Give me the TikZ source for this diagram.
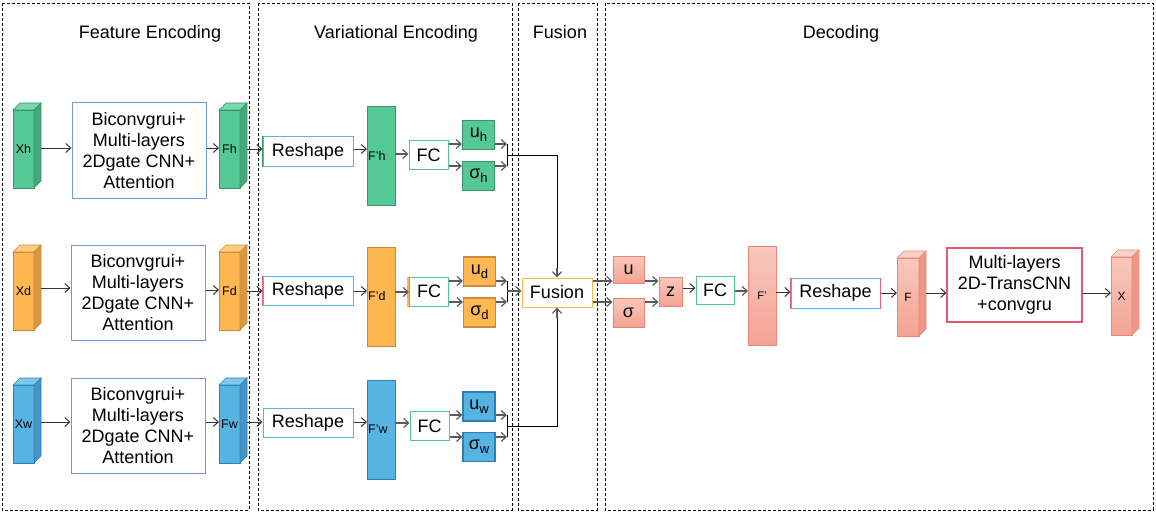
\documentclass[tikz,border=0pt]{standalone}
\usepackage{fontspec}
\setmainfont{Liberation Sans}
\usetikzlibrary{arrows.meta}
\definecolor{gF}{HTML}{55C995}
\definecolor{gB}{HTML}{3A9468}
\definecolor{gS}{HTML}{45A77A}
\definecolor{gT}{HTML}{78D8AE}
\definecolor{oF}{HTML}{FFB74F}
\definecolor{oB}{HTML}{C98B3B}
\definecolor{oS}{HTML}{D9973F}
\definecolor{oT}{HTML}{FFCB7E}
\definecolor{bF}{HTML}{56B4E3}
\definecolor{bB}{HTML}{2F80AF}
\definecolor{bS}{HTML}{4495C6}
\definecolor{bT}{HTML}{80C9EE}
\definecolor{sF1}{HTML}{F9C8BD}
\definecolor{sF2}{HTML}{F4A393}
\definecolor{sF}{HTML}{F6B5A7}
\definecolor{sB}{HTML}{EE8472}
\definecolor{sS}{HTML}{E8998A}
\definecolor{sT}{HTML}{FAD2C8}
\definecolor{boxBlue}{HTML}{6A9BDA}
\definecolor{reBlue}{HTML}{55B3E6}
\definecolor{fcGreen}{HTML}{52C48D}
\definecolor{fuOrange}{HTML}{FFB84A}
\definecolor{mlRed}{HTML}{E5566F}
\definecolor{edgePink}{HTML}{E6607A}
\definecolor{arrGray}{HTML}{333333}
\definecolor{arrGrayL}{HTML}{5A5A5A}
\newcommand\mysub[1]{\raisebox{-4pt}{\fontsize{13}{13}\selectfont #1}}
% name, cx, cy, w, h, colour prefix, label
\newcommand\mycube[7]{%
  \node[cubefront, #6front, minimum width=#4, minimum height=#5] (#1) at (#2,#3) {#7};
  \filldraw[fill=#6T, draw=#6B, line width=0.6pt] (#1.north west) -- ++(7,-7) -- ([shift={(7,-7)}]#1.north east) -- (#1.north east) -- cycle;
  \filldraw[fill=#6S, draw=#6B, line width=0.6pt] (#1.north east) -- ++(7,-7) -- ([shift={(7,-7)}]#1.south east) -- (#1.south east) -- cycle;
  \coordinate (#1-r) at ([shift={(7,0)}]#1.east);
}
\tikzset{
  frame/.style={draw=black, dash pattern=on 3pt off 2pt, line width=0.9pt},
  bigfont/.style={font=\fontsize{18}{21}\selectfont},
  title/.style={bigfont, inner sep=0, anchor=base},
  cubefront/.style={rectangle, inner sep=0, outer sep=0, line width=0.6pt, font=\fontsize{12.5}{14}\selectfont},
  gfront/.style={fill=gF, draw=gB},
  ofront/.style={fill=oF, draw=oB},
  bfront/.style={fill=bF, draw=bB},
  sfront/.style={top color=sF1, bottom color=sF2, draw=sB},
  frect/.style={rectangle, inner sep=0, outer sep=0, line width=0.7pt, minimum width=28, minimum height=99},
  encbox/.style={rectangle, draw=boxBlue, line width=1pt, fill=white, inner sep=0, bigfont, align=center, minimum width=134, minimum height=95},
  rebox/.style={rectangle, draw=reBlue, line width=1pt, fill=white, inner sep=0, bigfont, minimum width=90, minimum height=29},
  fcbox/.style={rectangle, draw=fcGreen, line width=1pt, fill=white, inner sep=0, bigfont, minimum width=39, minimum height=29},
  ubox/.style={rectangle, inner sep=0, line width=1.2pt, bigfont, minimum width=32, minimum height=29},
  smalltxt/.style={inner sep=0, font=\fontsize{12.5}{14}\selectfont},
  arr/.style={draw=arrGray, line width=1pt, -{Straight Barb[length=5pt,width=9pt]}},
  arrg/.style={draw=arrGrayL, line width=1.8pt, -{Straight Barb[length=5pt,width=9pt,line width=1.2pt]}},
  joinline/.style={draw=black, line width=1pt},
}
\begin{document}
\begin{tikzpicture}[x=1pt,y=-1pt]
\useasboundingbox (0,0) rectangle (1156,516);
% frames
\draw[frame] (2,3) rectangle (249,510);
\draw[frame] (258,3) rectangle (512,510);
\draw[frame] (518,3) rectangle (597,510);
\draw[frame] (605,3) rectangle (1153,510);
% titles
\node[title] (t1) at (150,38.5) {Feature Encoding};
\node[title] (t2) at (396,38.5) {Variational Encoding};
\node[title] (t3) at (560,38.5) {Fusion};
\node[title] (t4) at (841,38.5) {Decoding};

% ---------- row h ----------
\mycube{Xh}{23.5}{149}{21}{78}{g}{Xh}
\node[encbox] (B1) at (139,150.5) {Biconvgrui+\\Multi-layers\\2Dgate CNN+\\Attention};
\mycube{Fh}{229.5}{149}{21}{78}{g}{Fh}
\node[rebox] (R1) at (308,151.5) {Reshape};
\draw[gB, line width=1.4pt] (R1.north west) -- (R1.south west);
\node[frect, gfront] (Fph) at (381,156) {};
\node[smalltxt, anchor=west] (Fphl) at ([shift={(1,0)}]Fph.west) {F'h};
\node[fcbox] (FC1) at (428.5,155) {FC};
\node[ubox, fill=gF, draw=gB] (uh) at (478.5,135) {u\mysub{h}};
\node[ubox, fill=gF, draw=gB] (sh) at (478.5,176) {σ\mysub{h}};
\draw[arr] (Xh-r |- 0,148) -- (B1.west |- 0,148);
\draw[arr] (B1.east |- 0,148) -- (Fh.west |- 0,148);
\draw[arr] (Fh-r |- 0,149) -- (R1.west |- 0,149);
\draw[arr] (R1.east |- 0,149) -- (Fph.west |- 0,149);
\draw[arrg] (Fph.east |- 0,154) -- (FC1.west |- 0,154);
\draw[arrg] (FC1.east |- 0,144) -- (uh.west |- 0,144);
\draw[arrg] (FC1.east |- 0,166) -- (sh.west |- 0,166);
\coordinate (jh1) at (507,144);
\coordinate (jh2) at (507,166);
\coordinate (mh) at (507,155);
\draw[arrg] (uh.east |- jh1) -- (jh1);
\draw[arrg] (sh.east |- jh2) -- (jh2);
\draw[joinline] (jh1) -- (jh2);

% ---------- row d ----------
\mycube{Xd}{23.5}{291}{21}{78}{o}{Xd}
\node[encbox] (B2) at (138,292.5) {Biconvgrui+\\Multi-layers\\2Dgate CNN+\\Attention};
\mycube{Fd}{229.5}{291}{21}{78}{o}{Fd}
\node[rebox] (R2) at (308,291) {Reshape};
\draw[edgePink, line width=1.4pt] (R2.north west) -- (R2.south west);
\node[frect, ofront] (Fpd) at (381,296.5) {};
\node[smalltxt, anchor=west] (Fpdl) at ([shift={(1,0)}]Fpd.west) {F'd};
\node[fcbox] (FC2) at (429,291.5) {FC};
\draw[oF, line width=2.2pt] ([xshift=-1pt]FC2.north west) -- ([xshift=-1pt]FC2.south west);
\node[ubox, fill=oF, draw=oB] (ud) at (479.5,271.5) {u\mysub{d}};
\node[ubox, fill=oF, draw=oB] (sd) at (479.5,312.5) {σ\mysub{d}};
\draw[arr] (Xd-r |- 0,288) -- (B2.west |- 0,288);
\draw[arr] (B2.east |- 0,290) -- (Fd.west |- 0,290);
\draw[arr] (Fd-r |- 0,291) -- (R2.west |- 0,291);
\draw[arr] (R2.east |- 0,291) -- (Fpd.west |- 0,291);
\draw[arrg] (Fpd.east |- 0,292) -- (FC2.west |- 0,292);
\draw[arrg] (FC2.east |- 0,281) -- (ud.west |- 0,281);
\draw[arrg] (FC2.east |- 0,302) -- (sd.west |- 0,302);
\coordinate (jd1) at (507,281);
\coordinate (jd2) at (507,302);
\coordinate (md) at (507,291);
\draw[arrg] (ud.east |- jd1) -- (jd1);
\draw[arrg] (sd.east |- jd2) -- (jd2);
\draw[joinline] (jd1) -- (jd2);

% ---------- row w ----------
\mycube{Xw}{23.5}{424}{21}{78}{b}{Xw}
\node[encbox] (B3) at (138,426) {Biconvgrui+\\Multi-layers\\2Dgate CNN+\\Attention};
\mycube{Fw}{229.5}{424}{21}{78}{b}{Fw}
\node[rebox] (R3) at (308,423) {Reshape};
\node[frect, bfront] (Fpw) at (381,429.5) {};
\node[smalltxt, anchor=west] (Fpwl) at ([shift={(1,0)}]Fpw.west) {F'w};
\node[fcbox] (FC3) at (429.5,426) {FC};
\node[ubox, fill=bF, draw=bB] (uw) at (479,406.5) {u\mysub{w}};
\node[ubox, fill=bF, draw=bB] (sw) at (479,447) {σ\mysub{w}};
\draw[arr] (Xw-r |- 0,422) -- (B3.west |- 0,422);
\draw[arr] (B3.east |- 0,422) -- (Fw.west |- 0,422);
\draw[arr] (Fw-r |- 0,422) -- (R3.west |- 0,422);
\draw[arr] (R3.east |- 0,422) -- (Fpw.west |- 0,422);
\draw[arrg] (Fpw.east |- 0,423) -- (FC3.west |- 0,423);
\draw[arrg] (FC3.east |- 0,415) -- (uw.west |- 0,415);
\draw[arrg] (FC3.east |- 0,437) -- (sw.west |- 0,437);
\coordinate (jw1) at (507,415);
\coordinate (jw2) at (507,437);
\coordinate (mw) at (507,426);
\draw[arrg] (uw.east |- jw1) -- (jw1);
\draw[arrg] (sw.east |- jw2) -- (jw2);
\draw[joinline] (jw1) -- (jw2);

% ---------- fusion ----------
\node[rectangle, draw=fuOrange, line width=1pt, fill=white, inner sep=0, bigfont, minimum width=70, minimum height=29] (Fus) at (557,292.5) {Fusion};
\draw[joinline] (mh) -| ([yshift=8pt]Fus.north);
\draw[arrg] ([yshift=10pt]Fus.north) -- (Fus.north);
\draw[joinline] (mw) -| ([yshift=-8pt]Fus.south);
\draw[arrg] ([yshift=-10pt]Fus.south) -- (Fus.south);
\draw[arrg] (md) -- (Fus.west |- md);

% ---------- decoding ----------
\node[ubox, top color=sF1, bottom color=sF2, draw=sB, line width=1pt, minimum width=31, minimum height=27] (u) at (628.5,270) {u};
\node[ubox, top color=sF1, bottom color=sF2, draw=sB, line width=1pt, minimum width=31, minimum height=29] (s) at (628.5,312.5) {σ};
\draw[arrg] (Fus.east |- 0,281) -- (u.west |- 0,281);
\draw[arrg] (Fus.east |- 0,302) -- (s.west |- 0,302);
\node[ubox, top color=sF1, bottom color=sF2, draw=sB, line width=1pt, minimum width=23, minimum height=29] (z) at (670.5,291.5) {z};
\draw[arrg] (u.east |- 0,281) -- (z.west |- 0,281);
\draw[arrg] (s.east |- 0,302) -- (z.west |- 0,302);
\node[fcbox, minimum width=38, minimum height=28] (FC4) at (715,290) {FC};
\draw[arr] (z.east |- 0,288) -- (FC4.west |- 0,288);
\node[frect, sfront] (Fp) at (762,295.5) {\fontsize{11}{13}\selectfont F'};
\draw[arrg] (FC4.east |- 0,291) -- (Fp.west |- 0,291);
\node[rebox, minimum width=89, minimum height=30] (R4) at (835.5,293) {Reshape};
\draw[edgePink, line width=1.3pt] (R4.north west) -- (R4.south west);
\draw[edgePink, line width=1.3pt] (R4.north east) -- (R4.south east);
\draw[arr] (Fp.east |- 0,292) -- (R4.west |- 0,292);
\mycube{F}{908}{297}{22}{78}{s}{\fontsize{12}{14}\selectfont F}
\draw[arr] (R4.east |- 0,293) -- (F.west |- 0,293);
\node[rectangle, draw=mlRed, line width=1.1pt, fill=white, inner sep=0, bigfont, align=center, minimum width=135, minimum height=74] (ML) at (1014.5,285) {Multi-layers\\2D-TransCNN\\+convgru};
\draw[arr] (F-r |- 0,293) -- (ML.west |- 0,293);
\mycube{X}{1121.5}{296}{21}{78}{s}{\fontsize{12}{14}\selectfont X}
\draw[arr] (ML.east |- 0,293) -- (X.west |- 0,293);
\end{tikzpicture}
\end{document}
